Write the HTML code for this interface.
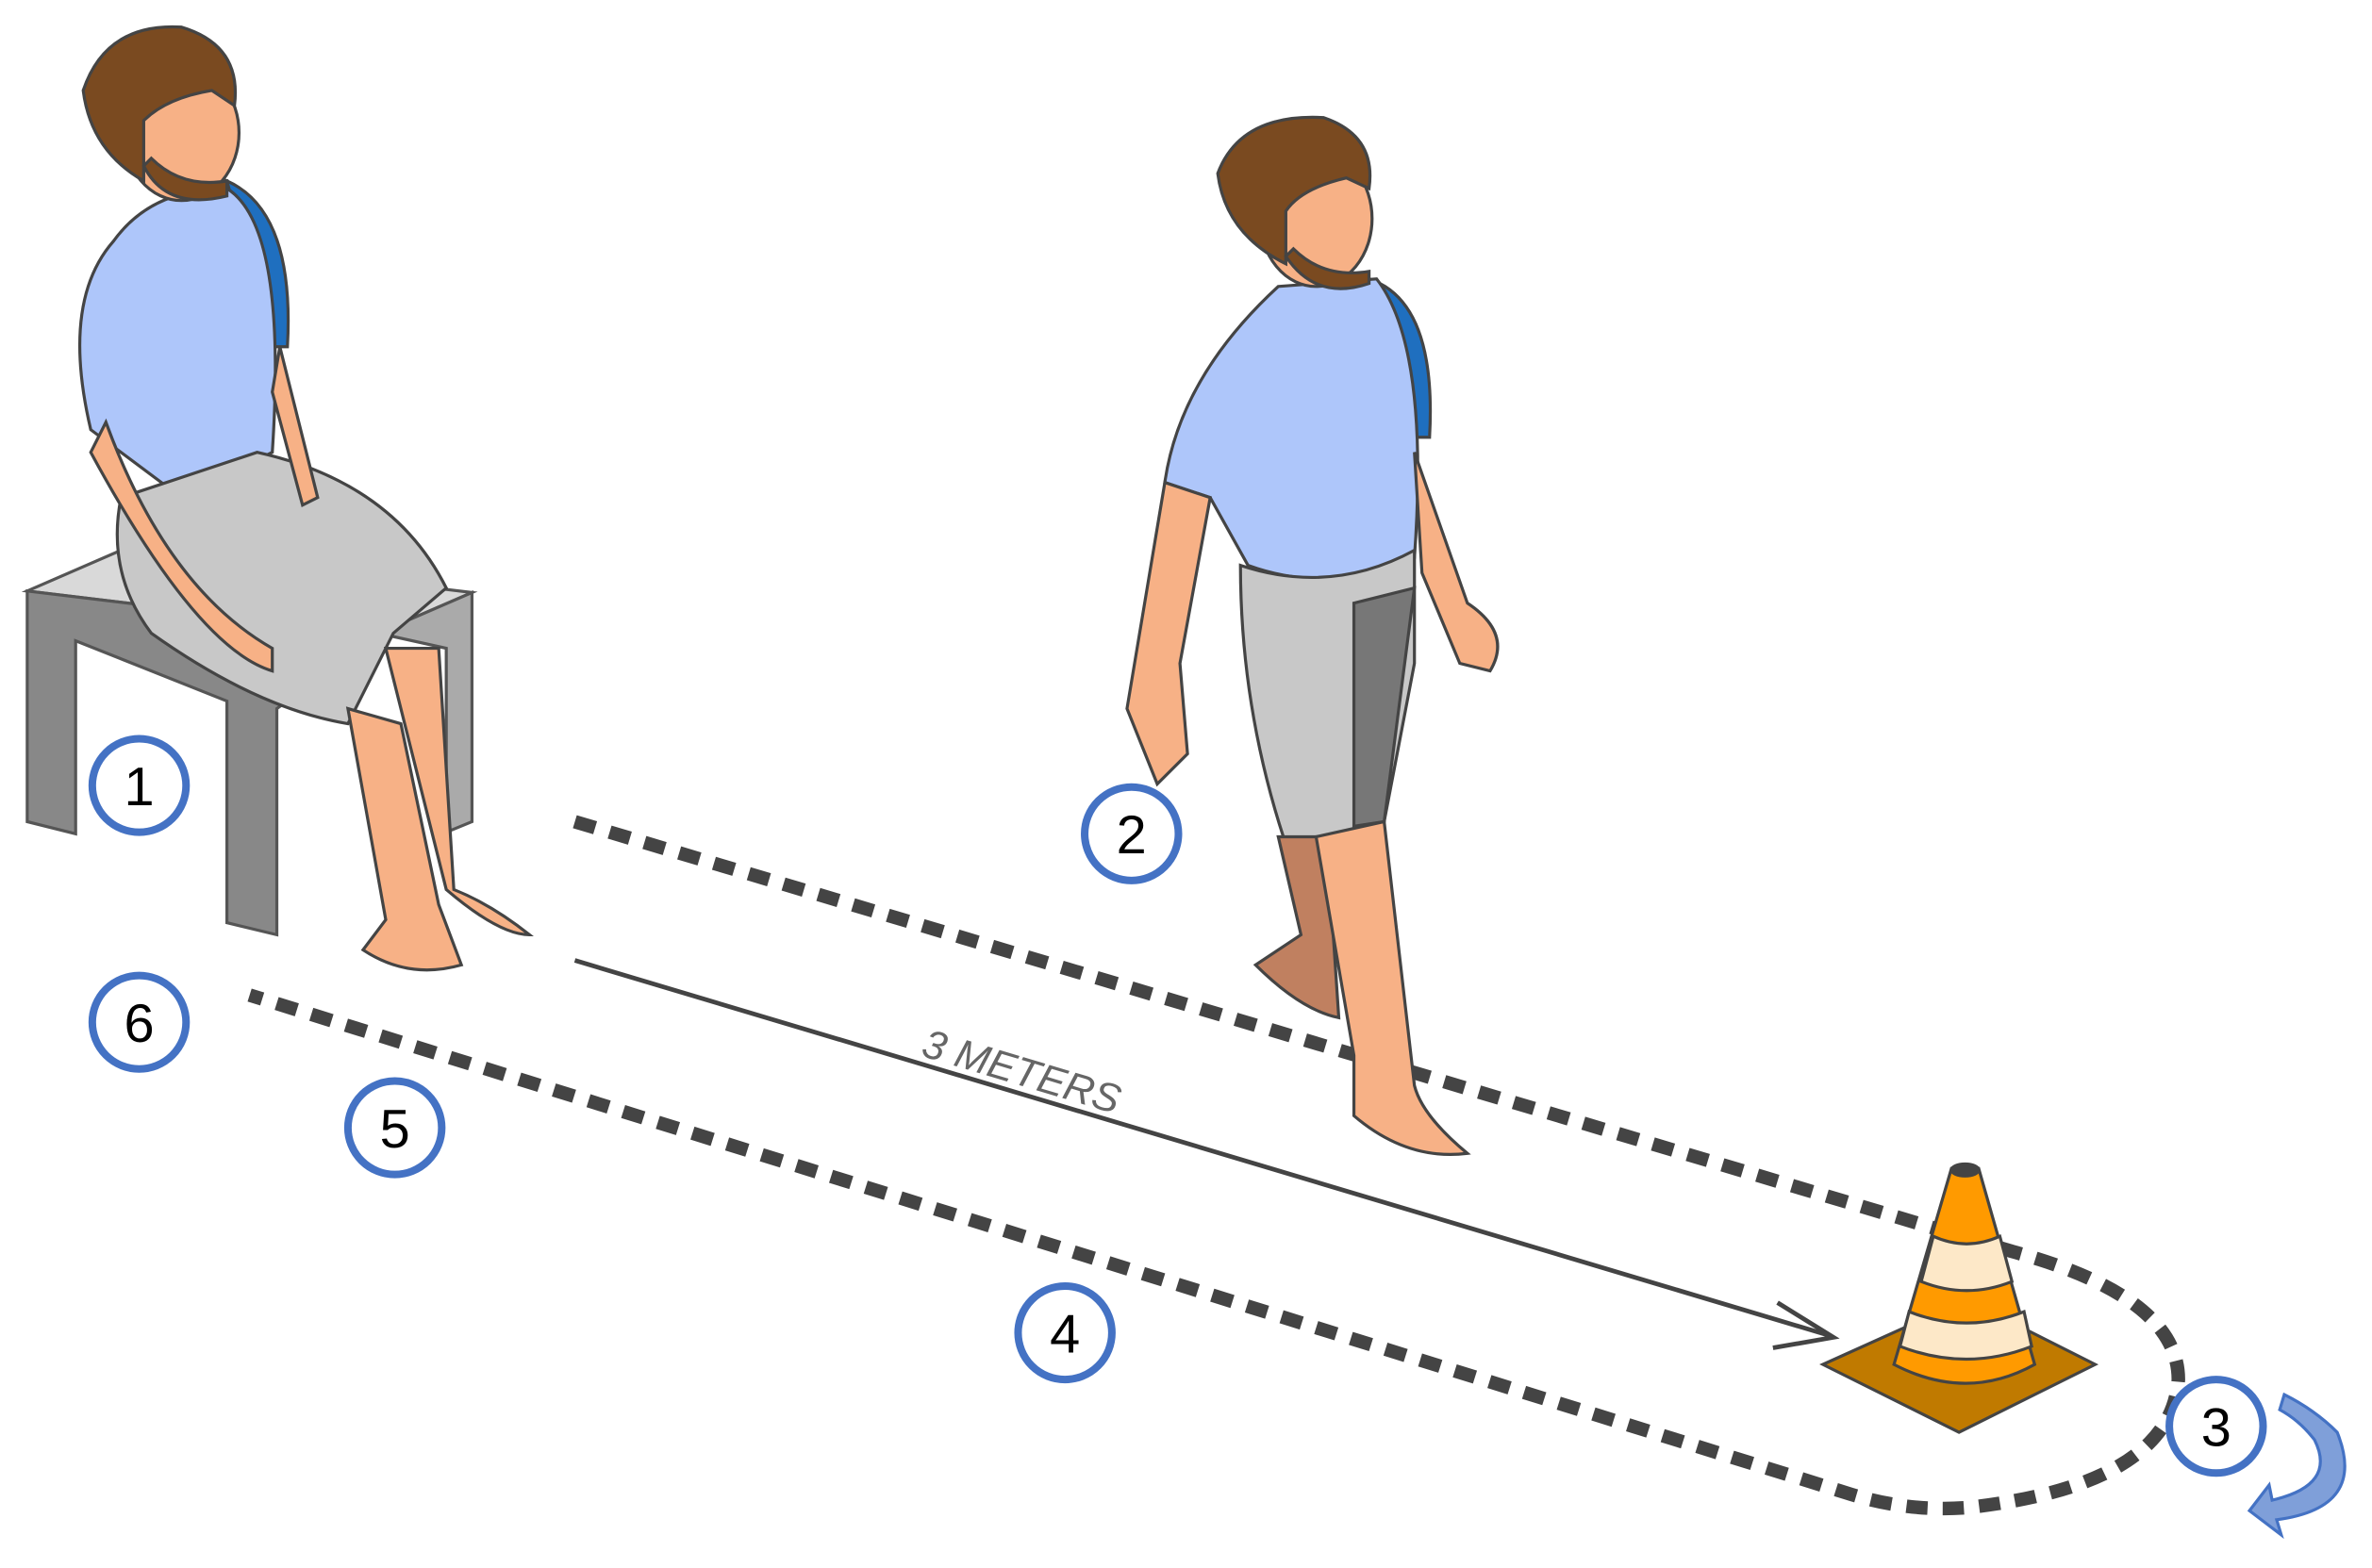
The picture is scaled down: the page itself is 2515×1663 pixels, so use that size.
<!DOCTYPE html>
<html><head><meta charset="utf-8"><style>
html,body{margin:0;padding:0;background:#fff;}
svg{display:block;}
text{font-family:"Liberation Sans",sans-serif;}
</style></head><body>
<svg width="2515" height="1663" viewBox="0 0 1568 1040" preserveAspectRatio="none" xmlns="http://www.w3.org/2000/svg">
<rect width="1568" height="1040" fill="#fff"/>
<!-- dotted path -->
<path d="M380,545 L1330,830 Q1440,860 1440,915 Q1435,985 1300,1000 Q1260,1003 1220,990 L165,660" fill="none" stroke="#444" stroke-width="9" stroke-dasharray="14 10"/>
<!-- 3 meters arrow -->
<g stroke="#444" stroke-width="3" fill="none">
<line x1="380" y1="637" x2="1210" y2="886"/>
<polyline points="1175,864 1212,887 1172,894"/>
</g>
<text x="608" y="700" font-size="27" fill="#666" font-style="italic" transform="rotate(16.7 608 700)">3 METERS</text>
<!-- chair -->
<g stroke="#555" stroke-width="2">
<polygon points="18,392 80,365 312,393 250,420" fill="#d9d9d9"/>
<polygon points="18,392 18,545 50,553 50,425 150,465 150,612 183,620 183,470 250,420" fill="#888"/>
<polygon points="250,420 312,393 312,545 295,552 295,430" fill="#aaa"/>
</g>
<!-- person 1 seated -->
<g stroke="#444" stroke-width="2">
<path d="M150,120 Q195,140 190,230 L180,230 Z" fill="#1f6fbf"/>
<path d="M75,160 Q100,125 150,125 Q190,150 180,300 L120,330 L60,285 Q40,200 75,160Z" fill="#aec6fa"/>
<path d="M80,330 L170,300 Q260,320 295,390 L260,420 L230,480 Q170,470 100,420 Q70,380 80,330Z" fill="#c8c8c8"/>
<path d="M70,280 Q110,390 180,430 L180,445 Q130,430 60,300Z" fill="#f7b186"/>
<path d="M230,470 L255,610 L240,630 Q270,650 305,640 L290,600 L265,480Z" fill="#f7b186"/>
<path d="M255,430 L295,590 Q330,620 350,620 Q325,600 300,590 L290,430Z" fill="#f7b186"/>
<path d="M185,230 L210,330 L200,335 L180,260Z" fill="#f7b186"/>
<ellipse cx="120" cy="88" rx="38" ry="45" fill="#f7b186"/>
<path d="M55,60 Q70,15 120,18 Q160,30 155,70 L140,60 Q110,65 95,80 L95,120 Q60,100 55,60Z" fill="#7a4a20"/>
<path d="M95,110 Q110,140 150,130 L150,120 Q120,125 100,105Z" fill="#7a4a20"/>
</g>
<!-- person 2 walking -->
<g stroke="#444" stroke-width="2">
<path d="M905,185 Q950,200 945,290 L935,290 Z" fill="#1f6fbf"/>
<path d="M845,190 L910,185 Q945,230 935,370 Q880,395 825,375 L800,330 L770,320 Q780,250 845,190Z" fill="#aec6fa"/>
<path d="M820,375 Q880,395 935,365 L935,440 L915,545 L850,560 Q820,470 820,375Z" fill="#c8c8c8"/>
<path d="M895,400 L935,390 L915,545 L895,548Z" fill="#777"/>
<path d="M770,320 L745,470 L765,520 L785,500 L780,440 L800,330Z" fill="#f7b186"/>
<path d="M935,300 L970,400 Q1000,420 985,445 L965,440 L940,380Z" fill="#f7b186"/>
<path d="M845,555 L860,620 L830,640 Q860,670 885,675 L880,600 L875,555Z" fill="#c08060"/>
<path d="M870,555 L895,700 L895,740 Q930,770 970,765 Q940,740 935,720 L915,545Z" fill="#f7b186"/>
<ellipse cx="870" cy="145" rx="37" ry="45" fill="#f7b186"/>
<path d="M805,115 Q820,75 875,78 Q910,90 905,125 L890,118 Q860,125 850,140 L850,175 Q810,155 805,115Z" fill="#7a4a20"/>
<path d="M850,170 Q870,200 905,188 L905,180 Q875,185 855,165Z" fill="#7a4a20"/>
</g>
<!-- cone -->
<g stroke="#444" stroke-width="2">
<polygon points="1205,905 1300,862 1385,905 1295,950" fill="#c07a00"/>
<path d="M1290,775 L1308,775 L1345,905 Q1300,930 1252,905Z" fill="#ff9a00"/>
<path d="M1278,820 Q1300,830 1322,820 L1330,850 Q1300,862 1270,850Z" fill="#fde8c8"/>
<path d="M1262,870 Q1300,885 1338,870 L1343,893 Q1300,910 1256,893Z" fill="#fde8c8"/>
<ellipse cx="1299" cy="776" rx="9" ry="4" fill="#444"/>
</g>
<!-- turn arrow -->
<path d="M1510,925 Q1530,935 1545,950 Q1565,1000 1505,1008 L1508,1018 L1487,1002 L1500,985 L1502,995 Q1545,985 1530,955 Q1520,942 1507,935Z" fill="#7f9fd9" stroke="#4472c4" stroke-width="2"/>
<!-- step circles -->
<g stroke="#4472c4" stroke-width="5" fill="#fff">
<circle cx="92" cy="521" r="31"/>
<circle cx="748" cy="553" r="31"/>
<circle cx="92" cy="678" r="31"/>
<circle cx="261" cy="748" r="31"/>
<circle cx="704" cy="884" r="31"/>
<circle cx="1465" cy="946" r="31"/>
</g>
<g font-size="36" text-anchor="middle" fill="#000">
<text x="92" y="534">1</text>
<text x="748" y="566">2</text>
<text x="92" y="691">6</text>
<text x="261" y="761">5</text>
<text x="704" y="897">4</text>
<text x="1465" y="959">3</text>
</g>
</svg>
</body></html>
